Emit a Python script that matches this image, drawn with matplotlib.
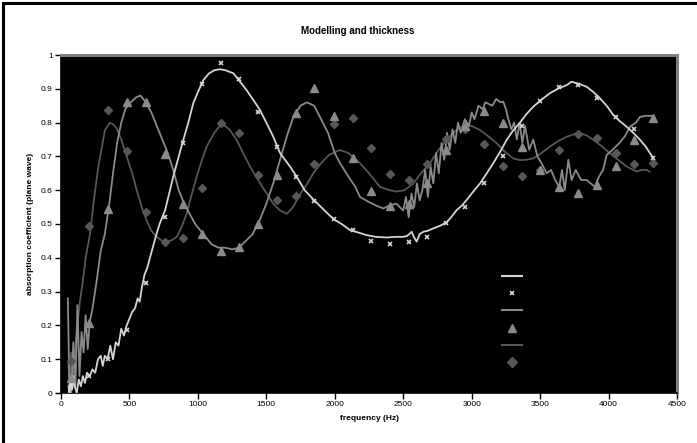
import matplotlib
matplotlib.use("Agg")
import matplotlib.pyplot as plt
from matplotlib.lines import Line2D
from matplotlib.patches import Rectangle

plt.rcParams['font.family'] = ['Liberation Sans', 'DejaVu Sans']

# ---------------- data ----------------
# series 1: light grey model line (x markers are its measurements)
f1 = [55, 62, 70, 80, 90, 100, 115, 130, 145, 160,
      175, 190, 210, 230, 250, 270, 290, 305, 320, 340,
      360, 380, 400, 420, 440, 460, 480, 500, 520, 540,
      560, 575, 590, 610, 630, 650, 670, 690, 720, 760,
      790, 820, 860, 893, 930, 966, 1000, 1040, 1080, 1120,
      1161, 1200, 1259, 1300, 1356, 1400, 1454, 1500, 1551, 1600,
      1673, 1722, 1780, 1843, 1900, 1989, 2050, 2111, 2170, 2233,
      2300, 2379, 2440, 2500, 2530, 2562, 2580, 2598, 2620, 2647,
      2680, 2720, 2770, 2817, 2850, 2890, 2930, 2963, 3010, 3061,
      3110, 3158, 3210, 3256, 3300, 3353, 3400, 3450, 3510, 3572,
      3630, 3694, 3730, 3780, 3840, 3890, 3937, 3990, 4035, 4080,
      4132, 4180, 4230, 4270, 4303, 4320]
v1 = [0.02, 0.00, 0.04, 0.01, 0.05, 0.02, 0.00, 0.04, 0.02, 0.05,
      0.03, 0.06, 0.05, 0.07, 0.06, 0.10, 0.11, 0.08, 0.11, 0.10,
      0.14, 0.10, 0.15, 0.14, 0.19, 0.17, 0.20, 0.22, 0.24, 0.25,
      0.28, 0.27, 0.31, 0.35, 0.37, 0.40, 0.43, 0.46, 0.50, 0.54,
      0.59, 0.64, 0.70, 0.748, 0.80, 0.857, 0.89, 0.926, 0.945, 0.955,
      0.958, 0.955, 0.946, 0.925, 0.896, 0.87, 0.837, 0.80, 0.758, 0.71,
      0.67, 0.64, 0.60, 0.573, 0.55, 0.515, 0.50, 0.482, 0.475, 0.467,
      0.462, 0.46, 0.462, 0.462, 0.465, 0.477, 0.46, 0.448, 0.47, 0.477,
      0.48, 0.487, 0.495, 0.505, 0.52, 0.541, 0.555, 0.571, 0.595, 0.62,
      0.65, 0.68, 0.715, 0.749, 0.775, 0.80, 0.825, 0.847, 0.868, 0.887,
      0.90, 0.911, 0.921, 0.915, 0.906, 0.89, 0.872, 0.848, 0.822, 0.805,
      0.788, 0.77, 0.749, 0.73, 0.709, 0.70]

# series 2: medium grey model line (triangles)
f2 = [50, 60, 75, 90, 105, 120, 135, 150, 165, 180,
      195, 210, 230, 260, 290, 320, 350, 380, 410, 440,
      470, 510, 550, 580, 620, 660, 700, 740, 780, 820,
      860, 900, 940, 980, 1020, 1060, 1100, 1150, 1200, 1250,
      1300, 1350, 1400, 1450, 1500, 1550, 1600, 1650, 1700, 1750,
      1795, 1850, 1900, 1950, 2000, 2038, 2100, 2150, 2184, 2250,
      2300, 2354, 2400, 2450, 2500, 2520, 2540, 2560, 2580, 2600,
      2620, 2640, 2660, 2680, 2700, 2720, 2740, 2760, 2780, 2800,
      2820, 2840, 2860, 2880, 2900, 2920, 2950, 2980, 3000, 3020,
      3050, 3080, 3100, 3150, 3180, 3210, 3231, 3250, 3268, 3290,
      3310, 3330, 3350, 3370, 3390, 3420, 3450, 3480, 3510, 3548,
      3580, 3610, 3640, 3660, 3680, 3706, 3730, 3760, 3800, 3840,
      3870, 3900, 3930, 3960, 3986, 4030, 4080, 4120, 4157, 4200,
      4230, 4270, 4300, 4320]
v2 = [0.28, 0.05, 0.00, 0.15, 0.02, 0.26, 0.05, 0.18, 0.12, 0.23,
      0.13, 0.21, 0.25, 0.33, 0.42, 0.47, 0.55, 0.65, 0.74, 0.80,
      0.84, 0.86, 0.875, 0.88, 0.86, 0.83, 0.79, 0.75, 0.71, 0.66,
      0.60, 0.56, 0.53, 0.50, 0.48, 0.46, 0.44, 0.43, 0.43, 0.425,
      0.43, 0.45, 0.47, 0.51, 0.56, 0.62, 0.69, 0.76, 0.82, 0.85,
      0.86, 0.85, 0.81, 0.77, 0.71, 0.68, 0.64, 0.61, 0.58, 0.565,
      0.555, 0.546, 0.555, 0.56, 0.54, 0.58, 0.52, 0.59, 0.55, 0.62,
      0.57, 0.60, 0.66, 0.58, 0.67, 0.62, 0.71, 0.65, 0.74, 0.69,
      0.77, 0.72, 0.78, 0.74, 0.80, 0.77, 0.81, 0.79, 0.83, 0.81,
      0.85, 0.84, 0.86, 0.85, 0.87, 0.86, 0.862, 0.84, 0.81, 0.78,
      0.80, 0.75, 0.80, 0.74, 0.79, 0.72, 0.75, 0.70, 0.68, 0.65,
      0.66, 0.63, 0.61, 0.66, 0.60, 0.69, 0.63, 0.66, 0.63, 0.63,
      0.62, 0.61, 0.64, 0.66, 0.704, 0.72, 0.74, 0.76, 0.788, 0.80,
      0.817, 0.82, 0.82, 0.82]

# series 3: dark grey model line (diamonds)
f3 = [55, 62, 75, 90, 105, 120, 139, 160, 180, 212,
      240, 273, 300, 321, 358, 380, 407, 440, 480, 520,
      553, 590, 626, 660, 699, 740, 772, 810, 845, 880,
      918, 950, 991, 1030, 1064, 1120, 1174, 1230, 1283, 1330,
      1381, 1440, 1503, 1550, 1600, 1650, 1697, 1750, 1800, 1843,
      1900, 1960, 2038, 2100, 2184, 2250, 2330, 2400, 2452, 2510,
      2574, 2630, 2695, 2760, 2817, 2880, 2939, 3000, 3061, 3120,
      3183, 3240, 3304, 3353, 3400, 3450, 3510, 3572, 3630, 3694,
      3780, 3840, 3888, 3950, 4010, 4070, 4132, 4205, 4240, 4278,
      4300]
v3 = [0.09, 0.00, 0.12, 0.02, 0.14, 0.20, 0.275, 0.33, 0.40, 0.47,
      0.57, 0.67, 0.73, 0.778, 0.80, 0.795, 0.783, 0.75, 0.70, 0.65,
      0.60, 0.55, 0.51, 0.48, 0.462, 0.45, 0.448, 0.452, 0.462, 0.49,
      0.53, 0.58, 0.64, 0.69, 0.729, 0.77, 0.798, 0.78, 0.749, 0.71,
      0.67, 0.63, 0.59, 0.56, 0.54, 0.53, 0.551, 0.59, 0.62, 0.65,
      0.68, 0.705, 0.719, 0.71, 0.68, 0.65, 0.61, 0.60, 0.596, 0.60,
      0.62, 0.65, 0.68, 0.72, 0.749, 0.775, 0.79, 0.79, 0.778, 0.76,
      0.739, 0.715, 0.694, 0.689, 0.69, 0.694, 0.71, 0.729, 0.745, 0.758,
      0.77, 0.762, 0.749, 0.73, 0.709, 0.69, 0.67, 0.655, 0.66, 0.66,
      0.655]

# measured points (shared frequency grid)
mf = [70, 207, 346, 485, 620, 760, 893, 1032, 1169, 1303,
      1441, 1575, 1717, 1851, 1994, 2130, 2264, 2403, 2540, 2676,
      2815, 2951, 3090, 3226, 3365, 3499, 3640, 3779, 3913, 4052,
      4188, 4327]
m1 = [0.02, 0.05, 0.10, 0.186, 0.325, 0.52, 0.74, 0.915, 0.977, 0.928,
      0.832, 0.729, 0.64, 0.569, 0.514, 0.482, 0.45, 0.441, 0.446, 0.462,
      0.504, 0.551, 0.62, 0.701, 0.79, 0.864, 0.906, 0.91, 0.874, 0.816,
      0.78, 0.694]
m2 = [0.043, 0.206, 0.543, 0.86, 0.86, 0.706, 0.56, 0.47, 0.421, 0.431,
      0.50, 0.645, 0.827, 0.901, 0.82, 0.694, 0.599, 0.554, 0.56, 0.62,
      0.72, 0.79, 0.834, 0.80, 0.729, 0.66, 0.61, 0.593, 0.614, 0.672,
      0.749, 0.813]
m3 = [0.095, 0.494, 0.837, 0.716, 0.535, 0.448, 0.458, 0.607, 0.80, 0.77,
      0.645, 0.571, 0.583, 0.677, 0.795, 0.813, 0.726, 0.647, 0.63, 0.677,
      0.752, 0.78, 0.736, 0.672, 0.642, 0.66, 0.719, 0.765, 0.753, 0.709,
      0.677, 0.681]

x_ticks = [0, 500, 1000, 1500, 2000, 2500, 3000, 3500, 4000, 4500]
y_ticks = [0, 0.1, 0.2, 0.3, 0.4, 0.5, 0.6, 0.7, 0.8, 0.9, 1]
y_tick_labels = ['0', '0.1', '0.2', '0.3', '0.4', '0.5', '0.6', '0.7', '0.8', '0.9', '1']

c_light = '#d4d4d4'
c_mid = '#8a8a8a'
c_dark = '#575757'

# ---------------- figure ----------------
fig = plt.figure(figsize=(6.97, 4.43), dpi=100)
fig.patch.set_facecolor('white')
ax = fig.add_axes([61 / 697, 50 / 443, 616 / 697, 338 / 443])
ax.set_facecolor('black')

ax.plot(f3, v3, color=c_dark, lw=1.3, zorder=2)
ax.plot(f2, v2, color=c_mid, lw=1.3, zorder=3)
ax.plot(f1, v1, color=c_light, lw=1.3, zorder=4)
ax.plot(mf, m3, ls='none', marker='D', ms=4.2, color=c_dark, zorder=5)
ax.plot(mf, m2, ls='none', marker='^', ms=5.2, color=c_mid, zorder=5)
ax.plot(mf, m1, ls='none', marker='x', ms=3.2, mew=1.2, color=c_light, zorder=6)

ax.set_xlim(0, 4500)
ax.set_ylim(0, 1)
ax.set_xticks(x_ticks)
ax.set_yticks(y_ticks)
ax.set_yticklabels(y_tick_labels)
ax.tick_params(axis='both', direction='out', length=4, width=1, color='black',
               labelsize=6, pad=2)

for s in ['left', 'bottom']:
    ax.spines[s].set_color('black')
    ax.spines[s].set_linewidth(1.2)
for s in ['top', 'right']:
    ax.spines[s].set_color('#808080')
    ax.spines[s].set_linewidth(2.2)

ax.set_xlabel('frequency (Hz)', fontsize=6, fontweight='bold', labelpad=5)
ax.set_ylabel('absorption coefficient (plane wave)', fontsize=6, fontweight='bold',
              labelpad=5)
fig.text(358 / 697, 1 - 31 / 443, 'Modelling and thickness', fontsize=7,
         fontweight='bold', ha='center', va='center')

handles = [
    Line2D([], [], color=c_light, lw=1.5),
    Line2D([], [], ls='none', marker='x', ms=3, mew=1.2, color=c_light),
    Line2D([], [], color=c_mid, lw=1.5),
    Line2D([], [], ls='none', marker='^', ms=6, color=c_mid),
    Line2D([], [], color=c_dark, lw=1.5),
    Line2D([], [], ls='none', marker='D', ms=5, color=c_dark),
]
leg = ax.legend(handles, [''] * 6, loc='center', bbox_to_anchor=(0.732, 0.216),
                frameon=False, fontsize=8, handlelength=1.8, handletextpad=0,
                labelspacing=0.65, borderpad=0)

# outer black frame (left and top visible, as in the reference)
fig.patches.append(Rectangle((3.5 / 697, -0.5), 1.5, 1.5 - 2.5 / 443,
                             transform=fig.transFigure, fill=False, ec='black',
                             lw=2.2, zorder=10))

fig.savefig('out.png', dpi=100, facecolor='white')
